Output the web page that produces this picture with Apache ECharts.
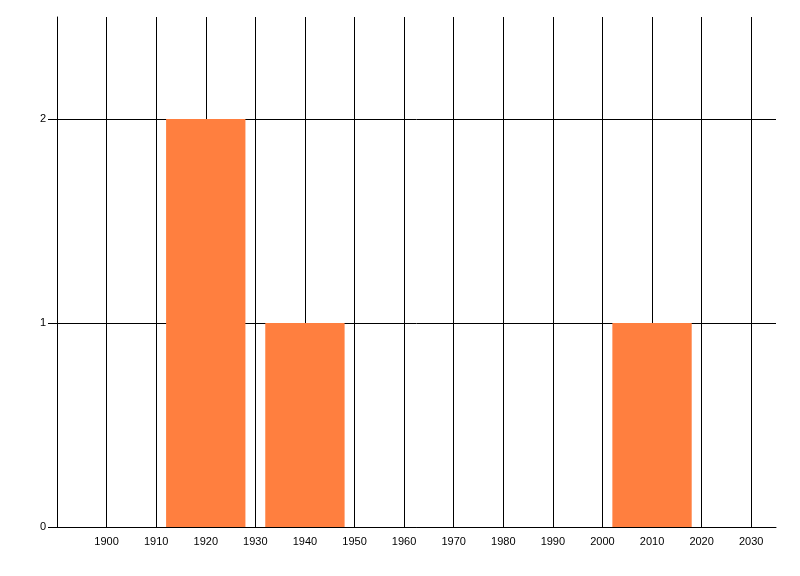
<!DOCTYPE html>
<html><head><meta charset="utf-8">
<script src="https://cdn.jsdelivr.net/npm/echarts@6/dist/echarts.min.js"></script>
<style>html,body{margin:0;padding:0;background:#fff}#c{width:800px;height:576px}</style>
</head><body><div id="c"></div>
<script>
const binStarts = [1912, 1932, 2002];
const binEnds = [1928, 1948, 2018];
const counts = [2, 1, 1];
const xTicks = [1890,1900,1910,1920,1930,1940,1950,1960,1970,1980,1990,2000,2010,2020,2030];
const xLabels = [1900,1910,1920,1930,1940,1950,1960,1970,1980,1990,2000,2010,2020,2030];
const yTicks = [0,1,2];

const data = binStarts.map((s,i)=>[s, binEnds[i], counts[i]]);
const chart = echarts.init(document.getElementById('c'), null, {renderer:'canvas'});
const font = {color:'#000', fontFamily:'Liberation Sans', fontSize:11, formatter:v=>String(v)};
chart.setOption({
  animation:false,
  grid:{left:57, right:24, top:17, bottom:49},
  xAxis:{type:'value', min:1890, max:2035, interval:10,
    axisLine:{show:true, lineStyle:{color:'#000', width:1}},
    axisTick:{show:false, customValues:xTicks},
    axisLabel:Object.assign({customValues:xLabels, margin:9}, font),
    splitLine:{show:true, lineStyle:{color:'#000', width:1}}
  },
  yAxis:{type:'value', min:0, max:2.5, interval:1,
    axisLine:{show:true, lineStyle:{color:'#000', width:1}},
    axisTick:{show:true, length:9, customValues:yTicks, lineStyle:{color:'#000'}},
    axisLabel:Object.assign({customValues:yTicks, margin:11}, font),
    splitLine:{show:true, lineStyle:{color:'#000', width:1}}
  },
  series:[{type:'custom', data:data, encode:{x:[0,1], y:2},
    renderItem:function(params, api){
      const p0 = api.coord([api.value(0), api.value(2)]);
      const p1 = api.coord([api.value(1), 0]);
      return {type:'rect', shape:{x:p0[0], y:p0[1], width:p1[0]-p0[0], height:p1[1]-p0[1]},
        style:{fill:'#FF7F3F'}};
    }
  }]
});
</script></body></html>
